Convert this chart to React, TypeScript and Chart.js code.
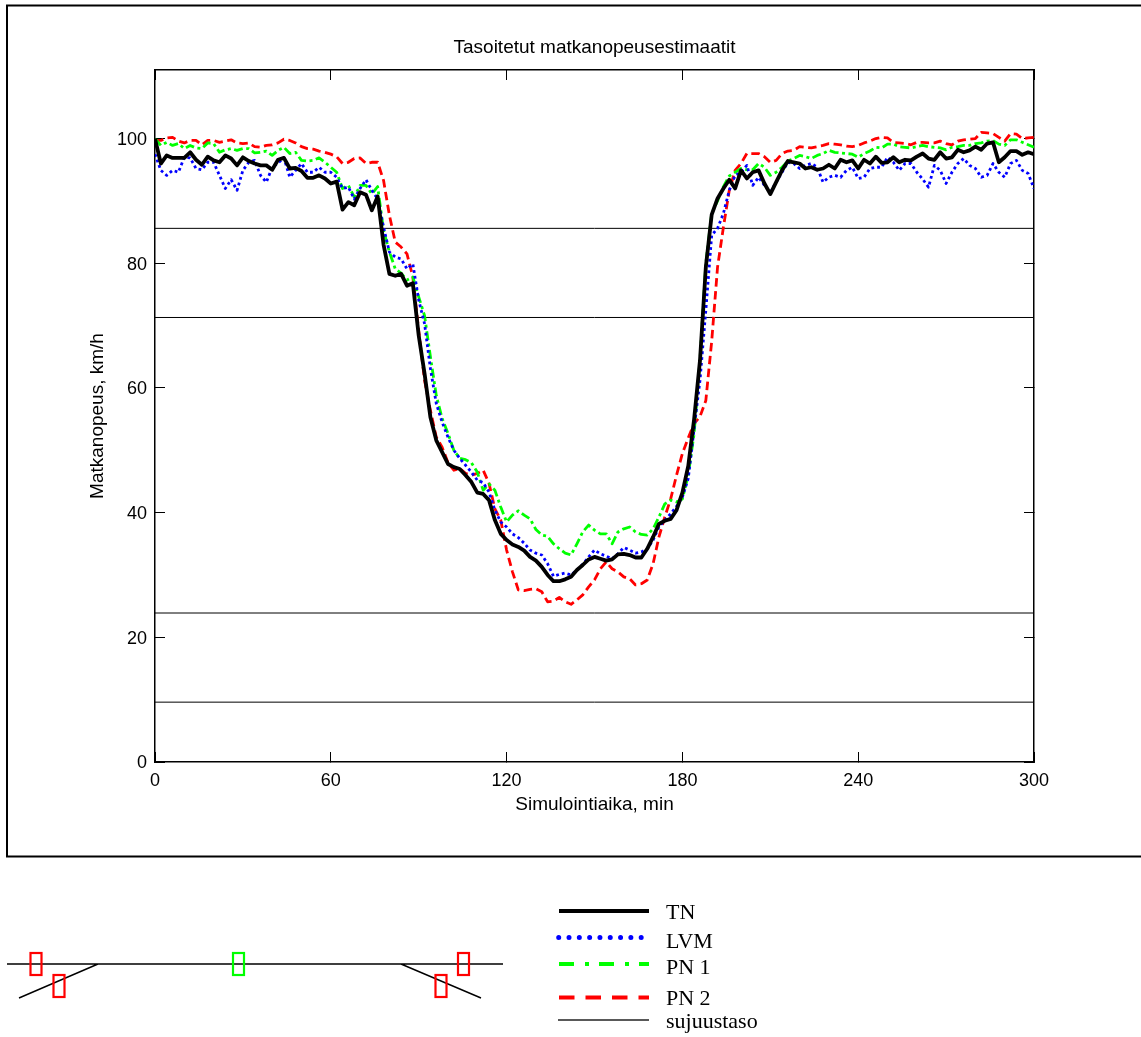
import React, { useEffect, useRef } from "react";
import { Chart, registerables } from "chart.js";

Chart.register(...registerables);

const TITLE = "Tasoitetut matkanopeusestimaatit";
const X_TITLE = "Simulointiaika, min";
const Y_TITLE = "Matkanopeus, km/h";

// one sample every 2 minutes, 0..300
const SAMPLE_STEP_MIN = 2;

const tn = [
  100, 96, 97.3, 96.9, 96.9, 96.9, 97.8, 96.6, 95.8, 97.1,
  96.5, 96.2, 97.3, 96.8, 95.7, 97, 96.4, 96, 95.7, 95.7,
  95, 96.6, 96.9, 95.2, 95.3, 94.8, 93.7, 93.7, 94.1, 93.6,
  92.8, 93.1, 88.6, 89.8, 89.3, 91.4, 91, 88.5, 90.7, 83,
  78.3, 78, 78.3, 76.4, 76.8, 68.4, 62.3, 55.3, 51.6, 49.7,
  47.8, 47.3, 47, 46, 44.9, 43.2, 43, 42, 38.8, 36.6,
  35.6, 34.9, 34.5, 33.9, 32.9, 32.3, 31.3, 30, 29, 29,
  29.3, 29.7, 30.8, 31.6, 32.5, 32.9, 32.6, 32.3, 32.5, 33.3,
  33.4, 33.2, 32.8, 32.8, 34.2, 36.1, 38.2, 38.7, 39, 40.4,
  43.2, 47.5, 55, 64.4, 79.4, 87.8, 90.4, 92, 93.4, 92,
  94.9, 93.6, 94.6, 94.9, 92.8, 91.1, 93, 94.9, 96.4, 96.2,
  96, 95.2, 95.4, 95, 95.2, 95.8, 95.2, 96.6, 96.2, 96.5,
  95.2, 96.6, 96, 97.1, 96.1, 96.2, 97, 96.2, 96.6, 96.5,
  97.1, 97.6, 96.8, 96.6, 97.8, 96.8, 97, 98.2, 97.8, 98.1,
  98.7, 98.2, 99.2, 99.4, 96.2, 97, 98, 98, 97.4, 97.8,
  97.5,
];

const lvm = [
  97.5, 94.9, 94.1, 94.9, 94.6, 97, 96.9, 95.2, 95, 96.2,
  96.2, 94.1, 92, 93.4, 91.7, 94.9, 96.2, 96.5, 94.1, 93,
  95.4, 96.1, 96.9, 93.8, 94.9, 96, 94.6, 94.6, 95.4, 94.6,
  94.6, 93.8, 92, 92.2, 90.3, 92, 93.4, 91.7, 90.3, 85.8,
  81.8, 81, 80.7, 79.1, 79.9, 74.1, 70.3, 63.1, 57.5, 54.5,
  52.1, 50, 48.7, 47.6, 46.5, 45.2, 44.8, 43.3, 40.4, 38.5,
  37.7, 36.6, 36, 35.1, 34, 33.5, 33.2, 31.8, 29.8, 30.1,
  30.3, 30, 30.8, 31.7, 32.9, 34, 33.4, 33, 32.6, 33.4,
  34.4, 34, 33.5, 33.7, 34.2, 35.6, 37.7, 38.8, 39.8, 41,
  42.5, 45.5, 53.5, 61.2, 72.5, 84.5, 85.6, 88, 91.7, 94.1,
  94.6, 95.7, 92.5, 93.8, 92.5, 91.4, 93, 94.6, 96.2, 96,
  95.2, 95.7, 96, 95.4, 93, 93.8, 94.1, 93.8, 94.9, 95.4,
  93.6, 93.8, 95.2, 95.4, 95.4, 97, 96.2, 94.9, 96, 96,
  94.6, 93.5, 92.2, 95.7, 94.9, 92.8, 94.6, 96, 96.8, 95.7,
  95.2, 93.8, 94.1, 96, 94.6, 93.8, 96, 96.5, 94.9, 94.4,
  92,
];

const pn1 = [
  100, 98.9, 99.4, 98.9, 99.2, 98.4, 98.9, 98.5, 98.4, 99.3,
  99.2, 97.8, 98.2, 98.4, 98.1, 98.4, 98.4, 97.7, 97.8, 98,
  97.3, 98.1, 98.6, 97.6, 97.8, 96.5, 96.4, 96.5, 96.9, 96.2,
  95.4, 94.6, 92, 92.5, 90.6, 92.5, 92.5, 91.1, 92.3, 85.3,
  81.8, 79.1, 78.4, 77.3, 77.8, 74.6, 71.6, 65, 58.8, 55.1,
  52.7, 50, 48.7, 48.5, 48, 46.5, 43.6, 44.6, 43.6, 40.9,
  38.5, 39.6, 40.3, 39.6, 39, 37.3, 36.4, 36.2, 35, 34.2,
  33.5, 33.2, 35, 36.9, 38, 37.2, 36.6, 36.6, 35, 36.9,
  37.4, 37.7, 36.9, 36.5, 36.4, 37.4, 39.3, 41.4, 42, 41.7,
  42.2, 46, 52.7, 64.5, 80, 88, 90, 92.3, 94, 94.6,
  95.2, 95, 95, 96, 95.4, 94.1, 94.6, 95.4, 96.4, 96.8,
  97.3, 97.1, 96.8, 97.3, 97.6, 98.1, 97.8, 97.7, 97.6, 97.5,
  97, 97.6, 98, 98.6, 98.5, 99.1, 99.1, 98.7, 98.6, 98.5,
  98.7, 98.9, 98.7, 98.6, 98.5, 98.2, 98.6, 98.7, 98.9, 98.9,
  99.2, 99.3, 99.6, 99.7, 99.1, 98.9, 99.8, 99.8, 99.4, 99,
  98.6,
];

const pn2 = [
  99.7, 99.7, 100.1, 100.2, 99.6, 99.3, 99.7, 99.7, 99, 99.7,
  99.7, 99.4, 99.6, 99.8, 99.3, 99.2, 99.3, 98.7, 98.6, 98.9,
  99, 99.3, 99.9, 99.7, 99.3, 98.7, 98.4, 98.3, 98, 97.8,
  97.5, 97.1, 96, 96.2, 96.8, 96.9, 96, 96.2, 96.2, 93.3,
  87.7, 83.4, 82.6, 81.5, 77.8, 69.2, 61.2, 56.4, 52.1, 50.5,
  48, 46.8, 47.1, 46.3, 46, 46.3, 46.8, 44.7, 40.6, 38.8,
  34, 30.5, 27.6, 27.5, 27.7, 27.8, 27.3, 25.7, 25.8, 26.4,
  25.7, 25.3, 26, 26.8, 28.1, 29.2, 31, 32.1, 31, 30.5,
  29.7, 29.4, 28.4, 28.6, 29.2, 31.8, 36.1, 39.3, 42.2, 46,
  49.5, 52, 54.3, 55.4, 58, 67.5, 79.4, 85.8, 91.7, 94.9,
  96, 97.6, 97.6, 97.6, 97.1, 96.2, 96.5, 97.6, 98, 98.1,
  98.7, 98.6, 98.5, 98.7, 98.9, 99.2, 99.1, 99, 98.8, 98.7,
  98.9, 99.3, 99.6, 100, 100.2, 100.1, 99.4, 99.3, 99.2, 99,
  99.4, 99.4, 99.3, 99.3, 99.6, 99.2, 99, 99.6, 99.8, 99.9,
  100, 101, 100.9, 100.8, 100.2, 99.6, 100.8, 100.7, 100, 100.1,
  100.2,
];

const levelSpeeds = [85.6, 71.3, 23.9, 9.6];
const levelSpan = [0, 300];

const legendLabels = ["TN", "LVM", "PN 1", "PN 2", "sujuustaso"];

const toPoints = (values: number[]) =>
  values.map((y, i) => ({ x: i * SAMPLE_STEP_MIN, y }));

const lineStyles = [
  { color: "#000000", width: 3.8, dash: [] as number[] },
  { color: "#0000ff", width: 2.8, dash: [2.8, 3] },
  { color: "#00ff00", width: 2.8, dash: [9, 3.5, 3, 3.5] },
  { color: "#ff0000", width: 2.8, dash: [8.5, 4.5] },
  { color: "#000000", width: 1, dash: [] as number[] },
];

const legendStyles = [
  { color: "#000000", width: 4, dash: [] as number[], cap: "butt", x0: 559, x1: 649, y: 911, textY: 919 },
  { color: "#0000ff", width: 5, dash: [0.01, 10.3], cap: "round", x0: 558.7, x1: 642, y: 937.5, textY: 948 },
  { color: "#00ff00", width: 4, dash: [15, 11, 4, 10], cap: "butt", x0: 559, x1: 649, y: 964, textY: 974 },
  { color: "#ff0000", width: 4, dash: [15.5, 11], cap: "butt", x0: 559, x1: 649, y: 997.5, textY: 1005 },
  { color: "#222222", width: 1.3, dash: [] as number[], cap: "butt", x0: 558, x1: 649, y: 1020, textY: 1028 },
];

const decorations = {
  id: "decorations",
  afterDraw(chart: any) {
    const ctx: CanvasRenderingContext2D = chart.ctx;
    ctx.save();

    // outer frame
    ctx.strokeStyle = "#000";
    ctx.lineWidth = 2;
    ctx.strokeRect(7, 5.5, 1140, 851);

    // road sketch
    ctx.lineWidth = 1.4;
    ctx.beginPath();
    ctx.moveTo(7, 964);
    ctx.lineTo(503, 964);
    ctx.moveTo(98, 964);
    ctx.lineTo(19, 998);
    ctx.moveTo(401, 964);
    ctx.lineTo(481, 998);
    ctx.stroke();
    const boxes: [number, number, string][] = [
      [30.5, 953, "#ff0000"],
      [53.5, 975, "#ff0000"],
      [233, 953, "#00ff00"],
      [435.5, 975, "#ff0000"],
      [458, 953, "#ff0000"],
    ];
    ctx.lineWidth = 2.2;
    boxes.forEach(([x, y, c]) => {
      ctx.strokeStyle = c;
      ctx.strokeRect(x, y, 11, 22);
    });

    // legend
    legendLabels.forEach((label, i) => {
      const s = legendStyles[i];
      ctx.strokeStyle = s.color;
      ctx.lineWidth = s.width;
      ctx.lineCap = s.cap as CanvasLineCap;
      ctx.setLineDash(s.dash);
      ctx.beginPath();
      ctx.moveTo(s.x0, s.y);
      ctx.lineTo(s.x1, s.y);
      ctx.stroke();
      ctx.setLineDash([]);
      ctx.fillStyle = "#000";
      ctx.font = '22px "Liberation Serif"';
      ctx.textAlign = "left";
      ctx.textBaseline = "alphabetic";
      ctx.fillText(label, 666, s.textY);
    });
    ctx.restore();
  },
};

const sans = '"Liberation Sans"';

export default function App() {
  const ref = useRef<HTMLCanvasElement>(null);
  useEffect(() => {
    const series = [tn, lvm, pn1, pn2];
    const datasets: any[] = series.map((values, i) => ({
      label: legendLabels[i],
      data: toPoints(values),
      borderColor: lineStyles[i].color,
      borderWidth: lineStyles[i].width,
      borderDash: lineStyles[i].dash,
      pointRadius: 0,
      tension: 0,
      borderJoinStyle: "round",
      xAxisID: "x",
      yAxisID: "y",
    }));
    levelSpeeds.forEach((speed) => {
      datasets.push({
        label: legendLabels[4],
        data: levelSpan.map((x) => ({ x, y: speed })),
        borderColor: lineStyles[4].color,
        borderWidth: lineStyles[4].width,
        pointRadius: 0,
        xAxisID: "x",
        yAxisID: "y",
      });
    });

    const axisBorder = { color: "#000", width: 1.5 };
    const tickGrid = {
      display: true,
      drawOnChartArea: false,
      drawTicks: true,
      tickLength: -10,
      tickColor: "#000",
      tickWidth: 1,
    };
    const textFont = { family: sans, size: 19, lineHeight: 1.2 };
    const tickFont = { family: sans, size: 18, lineHeight: 1.2 };
    const xRange = { type: "linear", min: 0, max: 300 };
    const yRange = { type: "linear", min: 0, max: 111 };

    const chart = new Chart(ref.current!, {
      type: "line",
      data: { datasets },
      plugins: [decorations],
      options: {
        responsive: false,
        animation: false,
        layout: {
          autoPadding: false,
          padding: { left: 0, right: 107, top: 0, bottom: 221 },
        },
        plugins: {
          legend: { display: false },
          tooltip: { enabled: false },
          title: {
            display: true,
            fullSize: false,
            text: TITLE,
            color: "#000",
            font: { ...textFont, weight: "normal" },
            padding: { top: 36.6, bottom: 10.6 },
          },
        },
        scales: {
          x: {
            ...xRange,
            position: "bottom",
            border: axisBorder,
            grid: tickGrid,
            ticks: {
              stepSize: 60,
              includeBounds: false,
              maxRotation: 0,
              color: "#000",
              font: tickFont,
              padding: 18,
            },
            title: {
              display: true,
              text: X_TITLE,
              color: "#000",
              font: textFont,
              padding: { top: 0, bottom: 0 },
            },
            afterFit: (s: any) => { s.height = 54; },
          },
          xTop: {
            ...xRange,
            position: "top",
            border: axisBorder,
            grid: tickGrid,
            ticks: { stepSize: 60, includeBounds: false, display: false },
            afterFit: (s: any) => { s.height = 0; },
          },
          y: {
            ...yRange,
            position: "left",
            border: axisBorder,
            grid: tickGrid,
            ticks: {
              stepSize: 20,
              includeBounds: false,
              color: "#000",
              font: tickFont,
              padding: 18,
              labelOffset: 1.5,
            },
            title: {
              display: true,
              text: Y_TITLE,
              color: "#000",
              font: textFont,
              padding: { top: 86, bottom: 0 },
            },
            afterFit: (s: any) => { s.width = 155; },
          },
          yRight: {
            ...yRange,
            position: "right",
            border: axisBorder,
            grid: tickGrid,
            ticks: { stepSize: 20, includeBounds: false, display: false },
            afterFit: (s: any) => { s.width = 0; },
          },
        },
      } as any,
    } as any);
    return () => chart.destroy();
  }, []);
  return (
    <canvas
      ref={ref}
      width={1141}
      height={1037}
      style={{ position: "absolute", left: 0, top: 0, display: "block" }}
    />
  );
}
